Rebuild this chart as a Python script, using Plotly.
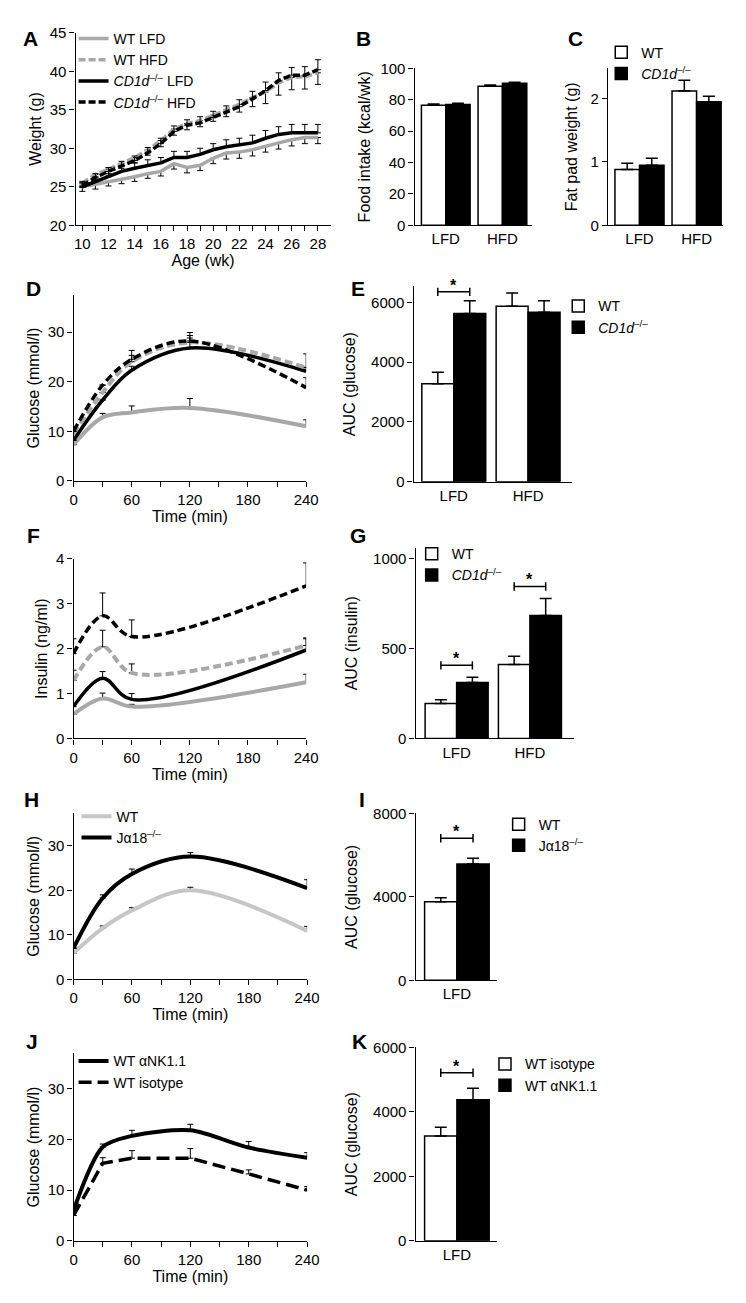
import plotly.graph_objects as go

W, H = 746, 1303
FONT = "Liberation Sans, Arial, Helvetica, sans-serif"
GRAY = "#a8a8a8"
LGRAY = "#c6c6c6"

# ---------------- data ----------------
weeks = list(range(10, 29))
a_wt_lfd = [25.0, 25.3, 25.7, 26.0, 26.3, 26.7, 27.0, 28.0, 27.5, 27.8, 28.7, 29.4, 29.5, 29.8, 30.3, 30.7, 31.1, 31.4, 31.4]
a_wt_lfd_err = [0.6, 0.6, 0.6, 0.6, 0.6, 0.6, 0.6, 0.7, 0.7, 0.7, 0.7, 0.8, 0.8, 0.8, 0.8, 0.8, 0.8, 0.8, 0.8]
a_ko_lfd = [25.0, 25.7, 26.4, 27.0, 27.4, 27.8, 28.1, 28.8, 28.8, 29.2, 29.8, 30.2, 30.4, 30.7, 31.3, 31.8, 32.0, 32.0, 32.0]
a_ko_lfd_err = [0.5, 0.6, 0.6, 0.7, 0.7, 0.7, 0.7, 0.8, 0.8, 0.8, 0.8, 0.9, 0.9, 1.0, 1.0, 1.0, 1.1, 1.1, 1.1]
a_wt_hfd = [25.5, 26.6, 27.3, 28.0, 28.8, 29.8, 31.0, 32.5, 33.2, 33.6, 34.3, 35.0, 35.7, 36.6, 37.3, 38.5, 39.2, 39.3, 39.8]
a_wt_hfd_err = [0.6, 0.6, 0.6, 0.6, 0.7, 0.7, 0.8, 0.8, 0.8, 0.8, 0.8, 0.9, 1.0, 1.2, 1.5, 1.6, 1.6, 1.6, 1.5]
a_ko_hfd = [25.2, 26.2, 27.0, 27.7, 28.4, 29.4, 30.6, 32.2, 33.0, 33.3, 34.0, 34.7, 35.4, 36.4, 37.5, 38.8, 39.5, 39.5, 40.2]
a_ko_hfd_err = [0.5, 0.5, 0.5, 0.6, 0.6, 0.7, 0.7, 0.7, 0.7, 0.8, 0.8, 0.8, 0.9, 1.0, 1.1, 1.0, 1.0, 1.1, 1.3]

diets = ["LFD", "HFD"]
b_wt = [76.5, 88.5]
b_wt_err = [0.7, 0.8]
b_ko = [77.0, 90.5]
b_ko_err = [0.8, 0.7]

c_wt = [0.88, 2.12]
c_wt_err = [0.10, 0.17]
c_ko = [0.95, 1.95]
c_ko_err = [0.11, 0.09]

gtt_t = [0, 30, 60, 120, 240]
d_wt_lfd = [7.3, 12.8, 13.8, 14.7, 11.0]
d_wt_lfd_err = [0, 0.8, 1.3, 1.9, 1.3]
d_ko_lfd = [8.2, 16.3, 22.3, 26.8, 22.1]
d_ko_lfd_err = [0, 0, 0.8, 2.0, 0.8]
d_wt_hfd = [9.5, 17.8, 24.0, 27.9, 22.8]
d_wt_hfd_err = [0, 0, 1.3, 1.4, 2.8]
d_ko_hfd = [10.0, 19.3, 24.5, 28.2, 18.8]
d_ko_hfd_err = [0, 0, 1.8, 1.7, 2.0]

e_wt = [3276, 5868]
e_wt_err = [386, 441]
e_ko = [5625, 5669]
e_ko_err = [430, 386]

ins_t = [0, 30, 60, 240]
f_wt_lfd = [0.54, 0.89, 0.71, 1.25]
f_wt_lfd_err = [0, 0.12, 0.05, 0.18]
f_wt_hfd = [1.29, 2.04, 1.46, 2.07]
f_wt_hfd_err = [0.23, 0.37, 0.20, 0.17]
f_ko_lfd = [0.71, 1.34, 0.87, 1.97]
f_ko_lfd_err = [0.05, 0.15, 0.13, 0.25]
f_ko_hfd = [1.89, 2.73, 2.27, 3.40]
f_ko_hfd_err = [0.33, 0.51, 0.37, 0.51]

g_wt = [195, 412]
g_wt_err = [20, 46]
g_ko = [312, 684]
g_ko_err = [28, 95]

h_wt = [5.9, 11.5, 15.5, 20.0, 10.9]
h_wt_err = [0, 0.5, 0.6, 0.7, 1.0]
h_ja = [7.0, 18.3, 23.7, 27.6, 20.5]
h_ja_err = [0, 0.7, 1.1, 0.9, 1.9]

lfd_only = ["LFD"]
i_wt = [3763]
i_wt_err = [190]
i_ja = [5581]
i_ja_err = [270]

j_t = [0, 30, 60, 120, 180, 240]
j_nk = [6.0, 18.5, 20.7, 21.8, 18.4, 16.4]
j_nk_err = [0.9, 0.6, 1.1, 1.2, 1.2, 1.0]
j_iso = [5.0, 15.3, 16.3, 16.3, 13.2, 10.0]
j_iso_err = [0, 1.1, 1.5, 1.9, 0.8, 0.7]

k_iso = [3250]
k_iso_err = [276]
k_nk = [4375]
k_nk_err = [358]

KO = "<i>CD1d</i><sup>–/–</sup>"
JA = "Jα18<sup>–/–</sup>"

# ---------------- helpers ----------------
def xd(p0, p1):
    return [p0 / W, p1 / W]

def yd(top, bot):
    return [1 - bot / H, 1 - top / H]

def px(x):
    return x / W

def py(y):
    return 1 - y / H

fig = go.Figure()

def err(arr, minus=False, width=3, th=1):
    z = [0] * len(arr)
    if minus:
        return dict(type="data", symmetric=False, array=z, arrayminus=arr, color="black", thickness=th, width=width)
    return dict(type="data", symmetric=False, array=arr, arrayminus=z, color="black", thickness=th, width=width)

def line(ax, x, y, e, color, dash, name, legend, width=3.5, minus=False, shape="spline", showlegend=True, smoothing=1.0):
    fig.add_trace(go.Scatter(
        x=x, y=y, mode="lines", name=name, xaxis="x" + ax, yaxis="y" + ax,
        line=dict(color=color, width=width, dash=dash, shape=shape, smoothing=smoothing),
        error_y=err(e, minus=minus), legend=legend, showlegend=showlegend))

def bars(ax, cats, y, e, fill, name, legend, first, showlegend=True, bw=0.43):
    idx = list(range(len(cats)))
    fig.add_trace(go.Bar(
        x=idx, y=y, name=name, xaxis="x" + ax, yaxis="y" + ax,
        width=bw, offset=-bw if first else 0,
        marker=dict(color=fill, line=dict(color="black", width=1.5)),
        error_y=err(e, width=6, th=1.5), legend=legend, showlegend=showlegend))

def bracket(ax, i, level, bw=0.43):
    fig.add_trace(go.Scatter(
        x=[i - bw / 2, i + bw / 2], y=[level, level], mode="lines+markers",
        xaxis="x" + ax, yaxis="y" + ax, showlegend=False, hoverinfo="skip",
        line=dict(color="black", width=1.5),
        marker=dict(symbol="line-ns-open", size=6, line=dict(color="black", width=1.5))))
    fig.add_annotation(x=i, y=level, xref="x" + ax, yref="y" + ax, text="<b>*</b>",
                       showarrow=False, yanchor="bottom", yshift=-4,
                       font=dict(size=16, family=FONT, color="black"))

# ---------------- A ----------------
line("", weeks, a_wt_lfd, a_wt_lfd_err, GRAY, "solid", "WT LFD", "legend", minus=True, shape="linear")
line("", weeks, a_wt_hfd, a_wt_hfd_err, GRAY, "7px,3px", "WT HFD", "legend", minus=True, shape="linear")
line("", weeks, a_ko_lfd, a_ko_lfd_err, "black", "solid", KO + " LFD", "legend", shape="linear")
line("", weeks, a_ko_hfd, a_ko_hfd_err, "black", "7px,3px", KO + " HFD", "legend", shape="linear")

# ---------------- B ----------------
bars("2", diets, b_wt, b_wt_err, "white", "WT", "legend2", True, showlegend=False)
bars("2", diets, b_ko, b_ko_err, "black", KO, "legend2", False, showlegend=False)

# ---------------- C ----------------
bars("3", diets, c_wt, c_wt_err, "white", "WT", "legend2", True)
bars("3", diets, c_ko, c_ko_err, "black", KO, "legend2", False)

# ---------------- D ----------------
line("4", gtt_t, d_wt_lfd, d_wt_lfd_err, GRAY, "solid", "WT LFD", "legend", width=4, showlegend=False)
line("4", gtt_t, d_ko_lfd, d_ko_lfd_err, "black", "solid", "KO LFD", "legend", width=3.5, showlegend=False)
line("4", gtt_t, d_wt_hfd, d_wt_hfd_err, GRAY, "8px,4px", "WT HFD", "legend", width=4, showlegend=False)
line("4", gtt_t, d_ko_hfd, d_ko_hfd_err, "black", "8px,4px", "KO HFD", "legend", width=3.5, showlegend=False)

# ---------------- E ----------------
bars("5", diets, e_wt, e_wt_err, "white", "WT", "legend3", True)
bars("5", diets, e_ko, e_ko_err, "black", KO, "legend3", False)
bracket("5", 0, max(e_wt[0] + e_wt_err[0], e_ko[0] + e_ko_err[0]) + 0.045 * 6530)

# ---------------- F ----------------
line("6", ins_t, f_wt_lfd, f_wt_lfd_err, GRAY, "solid", "WT LFD", "legend", width=4, showlegend=False)
line("6", ins_t, f_ko_lfd, f_ko_lfd_err, "black", "solid", "KO LFD", "legend", width=3.5, showlegend=False)
line("6", ins_t, f_wt_hfd, f_wt_hfd_err, GRAY, "8px,4px", "WT HFD", "legend", width=4, showlegend=False)
line("6", ins_t, f_ko_hfd, f_ko_hfd_err, "black", "8px,4px", "KO HFD", "legend", width=3.5, showlegend=False)

# ---------------- G ----------------
bars("7", diets, g_wt, g_wt_err, "white", "WT", "legend4", True)
bars("7", diets, g_ko, g_ko_err, "black", KO, "legend4", False)
for i in range(len(diets)):
    bracket("7", i, max(g_wt[i] + g_wt_err[i], g_ko[i] + g_ko_err[i]) + 0.063 * 1060)

# ---------------- H ----------------
line("8", gtt_t, h_wt, h_wt_err, LGRAY, "solid", "WT", "legend5", width=4)
line("8", gtt_t, h_ja, h_ja_err, "black", "solid", JA, "legend5", width=4)

# ---------------- I ----------------
bars("9", lfd_only, i_wt, i_wt_err, "white", "WT", "legend6", True)
bars("9", lfd_only, i_ja, i_ja_err, "black", JA, "legend6", False)
bracket("9", 0, max(i_wt[0] + i_wt_err[0], i_ja[0] + i_ja_err[0]) + 0.12 * 8000)

# ---------------- J ----------------
line("10", j_t, j_nk, j_nk_err, "black", "solid", "WT αNK1.1", "legend7", width=4, smoothing=0.8)
line("10", j_t, j_iso, j_iso_err, "black", "13px,6px", "WT isotype", "legend7", width=3.5, shape="linear")

# ---------------- K ----------------
bars("11", lfd_only, k_iso, k_iso_err, "white", "WT isotype", "legend8", True)
bars("11", lfd_only, k_nk, k_nk_err, "black", "WT αNK1.1", "legend8", False)
bracket("11", 0, max(k_iso[0] + k_iso_err[0], k_nk[0] + k_nk_err[0]) + 0.08 * 6000)

# ---------------- axes ----------------
TF = dict(family=FONT, size=15, color="black")
TTF = dict(family=FONT, size=16, color="black")
base = dict(showline=True, linecolor="black", linewidth=1.3, showgrid=False, zeroline=False,
            ticks="outside", ticklen=5, tickwidth=1.3, tickcolor="black", tickfont=TF,
            fixedrange=True)

def yaxis(name, top, bot, rng, dtick, title, standoff, xanchor):
    fig.layout[name] = dict(base, domain=yd(top, bot), range=rng, dtick=dtick, tick0=0,
                            anchor=xanchor, tickformat="d",
                            title=dict(text=title, font=TTF, standoff=standoff))

def xaxis_time(name, p0, p1, yanchor, title="Time (min)"):
    fig.layout[name] = dict(base, domain=xd(p0, p1), range=[0, 240], anchor=yanchor,
                            tickvals=list(range(0, 241, 30)),
                            ticktext=["0", "", "60", "", "120", "", "180", "", "240"],
                            title=dict(text=title, font=TTF, standoff=1))

def xaxis_cat(name, p0, p1, yanchor, cats, rng):
    fig.layout[name] = dict(base, domain=xd(p0, p1), range=rng, anchor=yanchor,
                            tickvals=list(range(len(cats))), ticktext=cats, ticks="")

# A
fig.layout["xaxis"] = dict(base, domain=xd(65, 326), range=[9.48, 28.97], anchor="y",
                           tickvals=weeks, ticktext=[str(w) if w % 2 == 0 else "" for w in weeks],
                           title=dict(text="Age (wk)", font=TTF, standoff=1))
yaxis("yaxis", 16, 211, [20, 45], 5, "Weight (g)", 4, "x")
# B
xaxis_cat("xaxis2", 412, 532, "y2", diets, [-0.55, 1.52])
yaxis("yaxis2", 52, 211, [0, 100], 20, "Food intake (kcal/wk)", 5, "x2")
# C
xaxis_cat("xaxis3", 610, 728, "y3", diets, [-0.55, 1.47])
yaxis("yaxis3", 52, 211, [0, 2.48], 1, "Fat pad weight (g)", 9, "x3")
# D
xaxis_time("xaxis4", 63, 301, "y4")
yaxis("yaxis4", 282, 470, [0, 37.4], 10, "Glucose (mmol/l)", 4, "x4")
# E
xaxis_cat("xaxis5", 411, 573, "y5", diets, [-0.54, 1.59])
yaxis("yaxis5", 273, 471, [0, 6530], 2000, "AUC (glucose)", 11, "x5")
# F
xaxis_time("xaxis6", 63, 301, "y6")
yaxis("yaxis6", 549, 731, [0, 4], 1, "Insulin (ng/ml)", 4, "x6")
# G
xaxis_cat("xaxis7", 413, 575, "y7", diets, [-0.56, 1.6])
yaxis("yaxis7", 538, 731, [0, 1060], 500, "AUC (insulin)", 11, "x7")
# H
xaxis_time("xaxis8", 63, 302, "y8")
yaxis("yaxis8", 807, 975, [0, 37.3], 10, "Glucose (mmol/l)", 4, "x8")
# I
xaxis_cat("xaxis9", 413, 496, "y9", lfd_only, [-0.55, 0.53])
yaxis("yaxis9", 807, 976, [0, 8000], 4000, "AUC (glucose)", 11, "x9")
# J
xaxis_time("xaxis10", 63, 302, "y10")
yaxis("yaxis10", 1050, 1240, [0, 37], 10, "Glucose (mmol/l)", 4, "x10")
# K
xaxis_cat("xaxis11", 413, 496, "y11", lfd_only, [-0.55, 0.53])
yaxis("yaxis11", 1044, 1240, [0, 6000], 2000, "AUC (glucose)", 11, "x11")

# ---------------- legends ----------------
LF = dict(family=FONT, size=14, color="black")
def leg(x_text, y_first, dx=8):
    return dict(x=px(x_text - 42 + dx), y=py(y_first - 15), xanchor="left", yanchor="top",
                bgcolor="rgba(0,0,0,0)", font=LF, tracegroupgap=0, itemclick=False,
                itemdoubleclick=False, traceorder="normal")

fig.update_layout(
    legend=leg(97, 21),
    legend2=leg(633, 35, dx=12),
    legend3=leg(595, 292, dx=6),
    legend4=leg(443, 543),
    legend5=leg(100, 809),
    legend6=leg(532, 817),
    legend7=leg(97, 1057),
    legend8=leg(518, 1060),
)

# ---------------- panel letters ----------------
letters = [("A", 19, 22), ("B", 360, 22), ("C", 577, 22), ("D", 22, 275), ("E", 354, 275),
           ("F", 22, 525), ("G", 354, 525), ("H", 20, 793), ("I", 358, 793),
           ("J", 20, 1038), ("K", 356, 1038)]
for t, x, y in letters:
    fig.add_annotation(x=px(x), y=py(y), xref="paper", yref="paper", text="<b>" + t + "</b>",
                       showarrow=False, xanchor="center", yanchor="middle",
                       font=dict(family=FONT, size=21, color="black"))

fig.update_layout(
    width=W, height=H, margin=dict(l=0, r=0, t=0, b=0),
    paper_bgcolor="white", plot_bgcolor="rgba(0,0,0,0)",
    barmode="overlay", font=dict(family=FONT, color="black"),
)

fig.write_html("out.html")
